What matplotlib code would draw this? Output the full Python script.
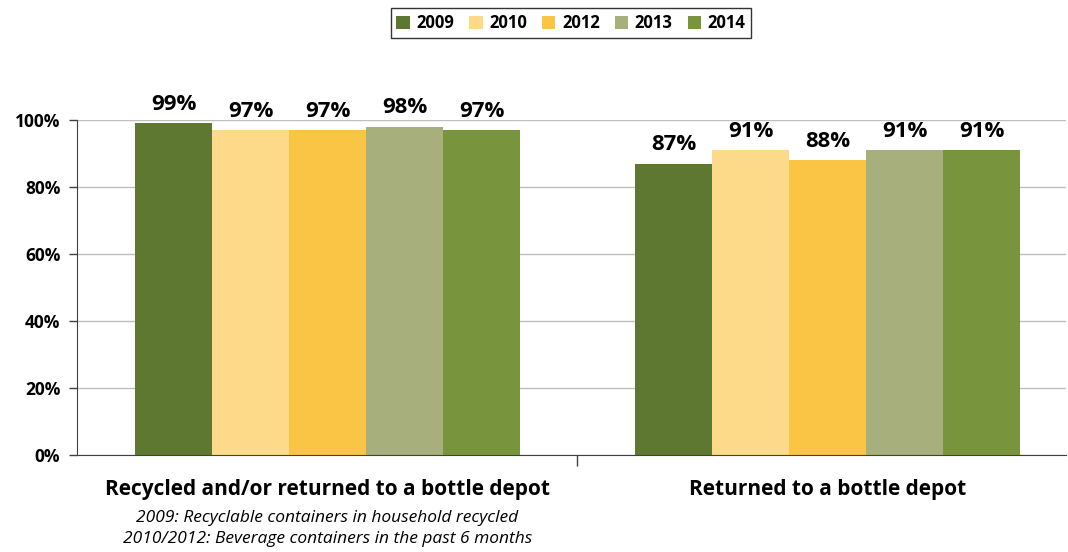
import numpy as np
import matplotlib.pyplot as plt

categories = ["Recycled and/or returned to a bottle depot", "Returned to a bottle depot"]
years = ["2009", "2010", "2012", "2013", "2014"]
values = {
    "2009": [99, 87],
    "2010": [97, 91],
    "2012": [97, 88],
    "2013": [98, 91],
    "2014": [97, 91],
}
colors = ["#5E7731", "#FDDA8A", "#FAC544", "#A7B07D", "#78953D"]
note = "2009: Recyclable containers in household recycled\n2010/2012: Beverage containers in the past 6 months"

plt.rcParams["font.family"] = ["Open Sans", "DejaVu Sans"]

fig = plt.figure(figsize=(10.68, 5.52), dpi=100)
ax = fig.add_axes([77 / 1068, 1 - 455 / 552, (1066 - 77) / 1068, (455 - 120) / 552])

x = np.arange(len(categories))
w = 0.154
for i, yr in enumerate(years):
    pos = x + (i - 2) * w
    bars = ax.bar(pos, values[yr], width=w, color=colors[i], label=yr, zorder=2)
    for b, v in zip(bars, values[yr]):
        ax.annotate(f"{v}%", (b.get_x() + b.get_width() / 2, v), xytext=(0, 6),
                    textcoords="offset points", ha="center", va="bottom",
                    fontsize=16, fontweight="bold")

ax.set_ylim(0, 100)
ax.set_xlim(-0.501, 1.477)
ax.set_yticks(range(0, 101, 20))
ax.set_yticklabels([f"{t}%" for t in range(0, 101, 20)], fontsize=12.5, fontweight="bold")
ax.yaxis.grid(True, color="#BFBFBF", linewidth=1, zorder=0)
ax.tick_params(axis="y", length=6, color="#404040", width=1, pad=6)

ax.set_xticks([0.5])
ax.set_xticklabels([])
ax.tick_params(axis="x", length=8, color="#404040", width=1)
ax.set_xticks(x, minor=True)
ax.set_xticklabels(categories, minor=True, fontsize=15, fontweight="bold")
ax.tick_params(axis="x", which="minor", length=0, pad=17)

ax.text(0, -0.165, note, transform=ax.get_xaxis_transform(), ha="center", va="top",
        fontsize=12.5, fontstyle="italic", linespacing=1.4)

for s in ["top", "right"]:
    ax.spines[s].set_visible(False)
ax.spines["left"].set_color("#404040")
ax.spines["bottom"].set_color("#404040")

leg = fig.legend(loc="center", bbox_to_anchor=(571 / 1068, 1 - 23 / 552), ncol=5,
                 frameon=True, fancybox=False, edgecolor="black", handlelength=0.8,
                 handleheight=0.8, handletextpad=0.4, columnspacing=0.9,
                 prop={"weight": "bold", "size": 12}, borderpad=0.35)
leg.get_frame().set_linewidth(1)

fig.savefig("out.png", dpi=100)
